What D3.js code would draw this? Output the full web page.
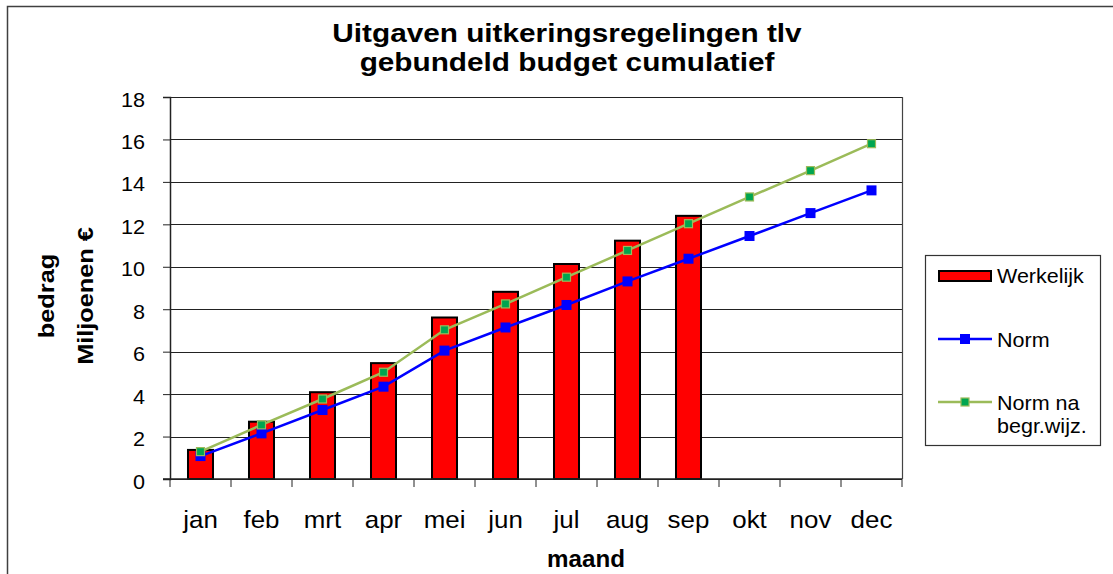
<!DOCTYPE html>
<html>
<head>
<meta charset="utf-8">
<script src="https://cdn.jsdelivr.net/npm/d3@7"></script>
<style>
  body { margin: 0; background: #fff; }
  text { font-family: Arial, "Liberation Sans", sans-serif; fill: #000; }
</style>
</head>
<body>
<div id="chart"></div>
<script>
// months on the x axis
var months = ["jan", "feb", "mrt", "apr", "mei", "jun", "jul", "aug", "sep", "okt", "nov", "dec"];
// Werkelijk (actual, cumulative) - only up to sep
var werkelijk = [1.37, 2.70, 4.09, 5.46, 7.61, 8.82, 10.13, 11.23, 12.40];
// Norm
var norm = [1.08, 2.15, 3.25, 4.35, 6.05, 7.14, 8.20, 9.31, 10.38, 11.45, 12.53, 13.60];
// Norm na begr.wijz.
var normNa = [1.29, 2.55, 3.77, 5.03, 7.03, 8.25, 9.51, 10.77, 12.03, 13.29, 14.53, 15.80];
var yTicks = [0, 2, 4, 6, 8, 10, 12, 14, 16, 18];

var W = 1113, H = 574;
var margin = {top: 97, right: 211, bottom: 95, left: 170},
    width = W - margin.left - margin.right,
    height = H - margin.top - margin.bottom;

// the original text is a bit wide (stretched), so scale x a little
var sx = 1.08;

var svg = d3.select("#chart").append("svg")
    .attr("width", W)
    .attr("height", H);

// outer chart frame (cut off at right/bottom)
svg.append("rect")
   .attr("x", 7.5).attr("y", 6.5)
   .attr("width", W + 10).attr("height", H + 10)
   .attr("fill", "none").attr("stroke", "#404040").attr("stroke-width", 1.5);

// title
var title = svg.append("g")
   .attr("transform", "translate(567,0) scale(1.19,1)")
   .append("text")
   .attr("text-anchor", "middle")
   .style("font-size", "25px").style("font-weight", "bold");
title.append("tspan").attr("x", 0).attr("y", 42).text("Uitgaven uitkeringsregelingen tlv");
title.append("tspan").attr("x", 0).attr("y", 71).text("gebundeld budget cumulatief");

var g = svg.append("g")
   .attr("transform", "translate(" + margin.left + "," + margin.top + ")");

var x = d3.scaleBand().domain(months).range([0, width]).paddingInner(0).paddingOuter(0);
var y = d3.scaleLinear().domain([0, 18]).range([height, 0]);

// gridlines
g.append("g")
 .selectAll("line")
 .data(yTicks)
 .enter().append("line")
   .attr("x1", 0).attr("x2", width)
   .attr("y1", function(d) { return Math.round(y(d)) + 0.5; })
   .attr("y2", function(d) { return Math.round(y(d)) + 0.5; })
   .attr("stroke", "#222").attr("stroke-width", 1);

// right border of plot area
g.append("line")
 .attr("x1", width + 0.5).attr("x2", width + 0.5)
 .attr("y1", 0).attr("y2", height)
 .attr("stroke", "#444").attr("stroke-width", 1.2);

// bars
var barW = x.bandwidth() * 0.41;
g.append("g")
 .selectAll("rect")
 .data(werkelijk)
 .enter().append("rect")
   .attr("x", function(d, i) { return x(months[i]) + x.bandwidth() / 2 - barW / 2; })
   .attr("y", function(d) { return y(d); })
   .attr("width", barW)
   .attr("height", function(d) { return height - y(d); })
   .attr("fill", "#ff0000")
   .attr("stroke", "#000").attr("stroke-width", 2);

// y axis
var yAxis = g.append("g")
   .call(d3.axisLeft(y).tickValues(yTicks).tickSize(7));
yAxis.select(".domain").attr("stroke", "#222").attr("stroke-width", 1.5);
yAxis.selectAll("line").attr("stroke", "#222");
yAxis.selectAll("text")
   .attr("x", -25 / sx)
   .attr("dy", "0.45em")
   .attr("transform", "scale(" + sx + ",1)")
   .style("font-size", "20px")
   .style("font-family", "Arial, 'Liberation Sans', sans-serif");

// x axis: ticks on band edges
var xAxis = g.append("g")
   .attr("transform", "translate(0," + height + ")");
xAxis.append("line")
   .attr("x1", -7).attr("x2", width)
   .attr("stroke", "#222").attr("stroke-width", 1.5);
xAxis.selectAll(".edge")
   .data(months.concat(["end"]))
   .enter().append("line")
   .attr("class", "edge")
   .attr("x1", function(d, i) { return i * x.bandwidth(); })
   .attr("x2", function(d, i) { return i * x.bandwidth(); })
   .attr("y1", 0).attr("y2", 8)
   .attr("stroke", "#222");
xAxis.selectAll(".lbl")
   .data(months)
   .enter().append("text")
   .attr("class", "lbl")
   .attr("transform", function(d) { return "translate(" + (x(d) + x.bandwidth() / 2) + ",49) scale(" + sx + ",1)"; })
   .attr("text-anchor", "middle")
   .style("font-size", "24px")
   .text(function(d) { return d; });

// lines
var line = d3.line()
   .x(function(d, i) { return x(months[i]) + x.bandwidth() / 2; })
   .y(function(d) { return y(d); });

g.append("path").datum(normNa)
 .attr("d", line).attr("fill", "none")
 .attr("stroke", "#9bbb59").attr("stroke-width", 2.5);
g.append("path").datum(norm)
 .attr("d", line).attr("fill", "none")
 .attr("stroke", "#0000ff").attr("stroke-width", 2.5);

g.append("g").selectAll("rect")
 .data(norm).enter().append("rect")
   .attr("x", function(d, i) { return x(months[i]) + x.bandwidth() / 2 - 5; })
   .attr("y", function(d) { return y(d) - 5; })
   .attr("width", 10).attr("height", 10)
   .attr("fill", "#0000ff");

g.append("g").selectAll("rect")
 .data(normNa).enter().append("rect")
   .attr("x", function(d, i) { return x(months[i]) + x.bandwidth() / 2 - 4; })
   .attr("y", function(d) { return y(d) - 4; })
   .attr("width", 8).attr("height", 8)
   .attr("fill", "#00a550").attr("stroke", "#9bbb59").attr("stroke-width", 1.2);

// axis titles
svg.append("text")
   .attr("transform", "translate(586,567) scale(1.05,1)")
   .attr("text-anchor", "middle")
   .style("font-size", "23px").style("font-weight", "bold")
   .text("maand");

svg.append("text")
   .attr("transform", "translate(54,296) rotate(-90) scale(1.15,1)")
   .attr("text-anchor", "middle")
   .style("font-size", "22px").style("font-weight", "bold")
   .text("bedrag");
svg.append("text")
   .attr("transform", "translate(93,296) rotate(-90) scale(1.15,1)")
   .attr("text-anchor", "middle")
   .style("font-size", "22px").style("font-weight", "bold")
   .text("Miljoenen €");

// legend
var leg = svg.append("g").attr("transform", "translate(925,255)");
leg.append("rect")
   .attr("x", 0.5).attr("y", 0.5).attr("width", 175).attr("height", 190)
   .attr("fill", "#fff").attr("stroke", "#333").attr("stroke-width", 1.2);

leg.append("rect")
   .attr("x", 14).attr("y", 16).attr("width", 52).attr("height", 10)
   .attr("fill", "#ff0000").attr("stroke", "#000").attr("stroke-width", 2);

leg.append("line").attr("x1", 13).attr("x2", 67).attr("y1", 84).attr("y2", 84)
   .attr("stroke", "#0000ff").attr("stroke-width", 2.5);
leg.append("rect").attr("x", 35).attr("y", 79).attr("width", 10).attr("height", 10).attr("fill", "#0000ff");

leg.append("line").attr("x1", 13).attr("x2", 67).attr("y1", 147).attr("y2", 147)
   .attr("stroke", "#9bbb59").attr("stroke-width", 2.5);
leg.append("rect").attr("x", 36).attr("y", 143).attr("width", 8).attr("height", 8)
   .attr("fill", "#00a550").attr("stroke", "#9bbb59").attr("stroke-width", 1.2);

var legText = [["Werkelijk", 28], ["Norm", 92], ["Norm na", 155], ["begr.wijz.", 178]];
leg.selectAll(".lt")
   .data(legText)
   .enter().append("text")
   .attr("class", "lt")
   .attr("transform", function(d) { return "translate(72," + d[1] + ") scale(1.05,1)"; })
   .style("font-size", "20.5px")
   .text(function(d) { return d[0]; });
</script>
</body>
</html>
